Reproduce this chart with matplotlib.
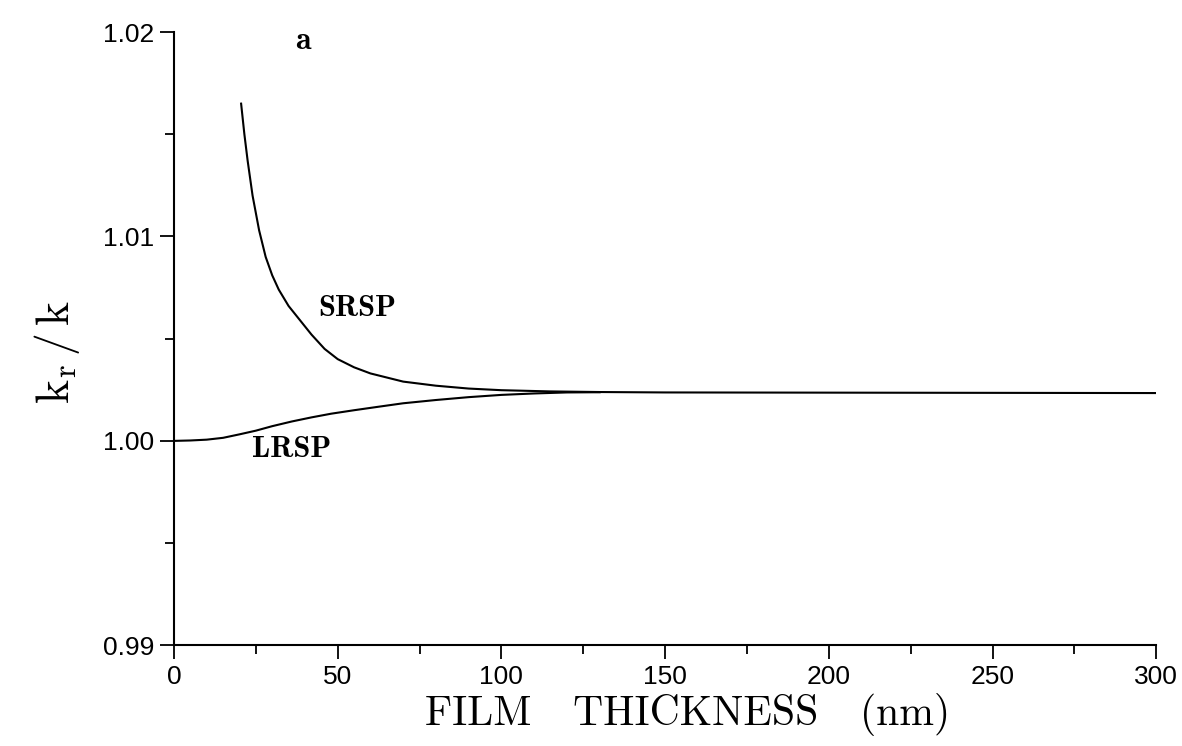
import numpy as np
import matplotlib
matplotlib.use("Agg")
import matplotlib.pyplot as plt
from matplotlib.ticker import MultipleLocator, FixedLocator

plt.rcParams["mathtext.fontset"] = "cm"

# values (film thickness in nm, k_r/k)
srsp_x = [20.5, 21.5, 22.5, 24, 26, 28, 30, 32, 35, 38, 42, 46, 50, 55, 60,
          65, 70, 80, 90, 100, 115, 130, 150, 200, 250, 300]
srsp_y = [1.0165, 1.0150, 1.0137, 1.0120, 1.0103, 1.0090, 1.0081, 1.0074,
          1.0066, 1.0060, 1.0052, 1.0045, 1.0040, 1.0036, 1.0033, 1.0031,
          1.0029, 1.0027, 1.00256, 1.00248, 1.00242, 1.00239, 1.00237,
          1.00236, 1.00235, 1.00234]

lrsp_x = [0, 5, 10, 15, 20, 25, 30, 36, 42, 48, 55, 62, 70, 80, 90, 100,
          110, 120, 130]
lrsp_y = [1.0000, 1.00002, 1.00006, 1.00015, 1.00032, 1.00050, 1.00072,
          1.00095, 1.00115, 1.00133, 1.00150, 1.00166, 1.00184, 1.00200,
          1.00214, 1.00225, 1.00232, 1.00237, 1.00238]

xticks = [0, 50, 100, 150, 200, 250, 300]
yticks = [0.99, 1.00, 1.01, 1.02]
ytick_labels = ["0.99", "1.00", "1.01", "1.02"]

fig = plt.figure(figsize=(11.82, 7.46), dpi=100)
ax = fig.add_axes([0.1472, 0.135, 0.831, 0.822])

ax.plot(srsp_x, srsp_y, color="black", lw=1.5)
ax.plot(lrsp_x, lrsp_y, color="black", lw=1.5)

ax.set_xlim(0, 300)
ax.set_ylim(0.99, 1.02)
ax.spines["top"].set_visible(False)
ax.spines["right"].set_visible(False)
ax.spines["left"].set_linewidth(1.5)
ax.spines["bottom"].set_linewidth(1.5)

ax.xaxis.set_major_locator(FixedLocator(xticks))
ax.xaxis.set_minor_locator(MultipleLocator(25))
ax.yaxis.set_major_locator(FixedLocator(yticks))
ax.yaxis.set_minor_locator(MultipleLocator(0.005))
ax.set_yticklabels(ytick_labels)
ax.set_xticklabels([str(t) for t in xticks])

ax.tick_params(which="major", direction="out", length=10, width=1.3,
               labelsize=19, pad=4)
ax.tick_params(which="minor", direction="out", length=6.5, width=1.3)
for lab in ax.get_xticklabels() + ax.get_yticklabels():
    lab.set_family("Liberation Sans")

ax.set_xlabel("FILM   THICKNESS   (nm)", family="cmr10", fontsize=30)
ax.xaxis.set_label_coords(0.523, -0.077)
ax.set_ylabel(r"$\mathrm{k_r\,/\,k}$", fontsize=33, math_fontfamily="cm")
ax.yaxis.set_label_coords(-0.094, 0.478)

ax.text(39.5, 1.0196, "a", family="cmb10", fontsize=23, ha="center", va="center")
ax.text(56.0, 1.0065, "SRSP", family="cmb10", fontsize=22, ha="center", va="center")
ax.text(36.0, 0.9996, "LRSP", family="cmb10", fontsize=22, ha="center", va="center")

fig.savefig("out.png", dpi=100)
